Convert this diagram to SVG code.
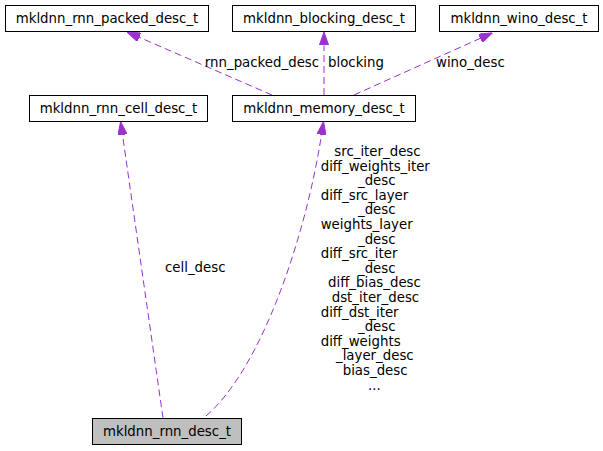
<svg xmlns="http://www.w3.org/2000/svg" width="603" height="451" viewBox="0 0 603 451">
<style>
.node rect{fill:#ffffff;stroke:#000000;stroke-width:1}
.node.main rect{fill:#bfbfbf}
text{font-family:"DejaVu Sans",sans-serif;font-size:13.33px;fill:#000000}
.node text{text-anchor:middle}
.edge{fill:none;stroke:#9a32cd;stroke-width:1;stroke-dasharray:7,4}
</style>
<defs>
<marker id="ah" viewBox="0 0 13.3 9.3" markerWidth="13.3" markerHeight="9.3" refX="0" refY="4.65" orient="auto" markerUnits="userSpaceOnUse">
<path d="M0,0 L13.3,4.65 L0,9.3 z" fill="#9a32cd" stroke="#9a32cd" stroke-width="1" stroke-dasharray="none"/>
</marker>
</defs>
<rect width="603" height="451" fill="#ffffff"/>
<g id="connectors">
<path class="edge" d="M272,95 L139.2,37.3" marker-end="url(#ah)"/>
<path class="edge" d="M324,95 L324,45.3" marker-end="url(#ah)"/>
<path class="edge" d="M354,95 L480.3,38.3" marker-end="url(#ah)"/>
<path class="edge" d="M163,418 L122.5,134.8" marker-end="url(#ah)"/>
<path class="edge" d="M206,416 C262,368 306,235 321.5,134.8" marker-end="url(#ah)"/>
<text x="262" y="66.5" text-anchor="middle">rnn_packed_desc</text>
<text x="328" y="66.5">blocking</text>
<text x="436" y="66.5">wino_desc</text>
<text x="165" y="272">cell_desc</text>
<text x="334.3" y="156">src_iter_desc</text>
<text x="320.7" y="170.6">diff_weights_iter</text>
<text x="358" y="185.2">_desc</text>
<text x="320.7" y="199.8">diff_src_layer</text>
<text x="358" y="214.4">_desc</text>
<text x="320.7" y="229">weights_layer</text>
<text x="358" y="243.6">_desc</text>
<text x="320.7" y="258.2">diff_src_iter</text>
<text x="358" y="272.8">_desc</text>
<text x="328" y="287.4">diff_bias_desc</text>
<text x="331.7" y="302">dst_iter_desc</text>
<text x="320.7" y="316.6">diff_dst_iter</text>
<text x="358" y="331.2">_desc</text>
<text x="320.7" y="345.8">diff_weights</text>
<text x="336" y="360.4">_layer_desc</text>
<text x="342.7" y="375">bias_desc</text>
<text x="368" y="389.6">...</text>
</g>
<g id="mkldnn_rnn_packed_desc_t" class="node">
<rect x="5.5" y="5.5" width="203" height="26"/>
<text x="107" y="22.5">mkldnn_rnn_packed_desc_t</text>
</g>
<g id="mkldnn_blocking_desc_t" class="node">
<rect x="232.5" y="5.5" width="183" height="26"/>
<text x="324" y="22.5">mkldnn_blocking_desc_t</text>
</g>
<g id="mkldnn_wino_desc_t" class="node">
<rect x="439.5" y="5.5" width="159" height="26"/>
<text x="519" y="22.5">mkldnn_wino_desc_t</text>
</g>
<g id="mkldnn_rnn_cell_desc_t" class="node">
<rect x="29.5" y="95.5" width="178" height="26"/>
<text x="118.5" y="112.5">mkldnn_rnn_cell_desc_t</text>
</g>
<g id="mkldnn_memory_desc_t" class="node">
<rect x="232.5" y="95.5" width="183" height="26"/>
<text x="324" y="112.5">mkldnn_memory_desc_t</text>
</g>
<g id="mkldnn_rnn_desc_t" class="node main">
<rect x="92.5" y="418.5" width="149" height="26"/>
<text x="167" y="435.5">mkldnn_rnn_desc_t</text>
</g>
</svg>
